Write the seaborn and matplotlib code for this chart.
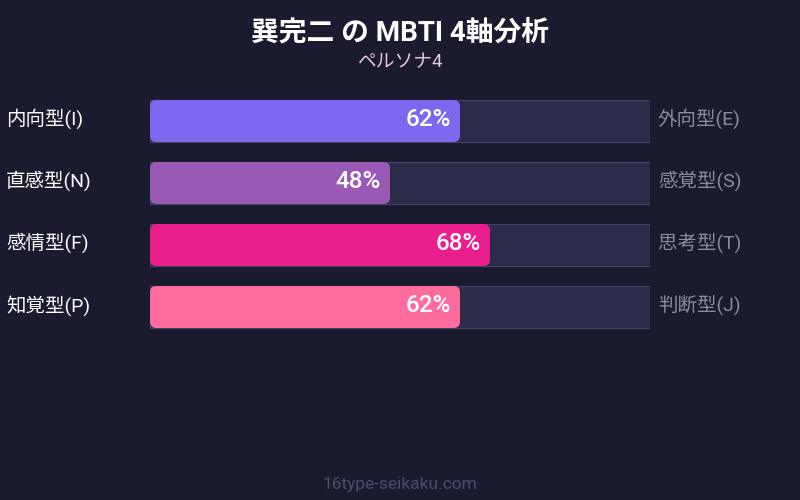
import matplotlib
matplotlib.use("Agg")
import matplotlib.pyplot as plt
import matplotlib.transforms as mtransforms
from matplotlib.patches import FancyBboxPatch
import seaborn as sns
import pandas as pd

# data
left_labels = ["内向型(I)", "直感型(N)", "感情型(F)", "知覚型(P)"]
right_labels = ["外向型(E)", "感覚型(S)", "思考型(T)", "判断型(J)"]
scores = [62, 48, 68, 62]
bar_colors = ["#7b68ee", "#9b59b6", "#e91e8c", "#ff6b9d"]
title = "巽完二 の MBTI 4軸分析"
subtitle = "ペルソナ4"
footer = "16type-seikaku.com"

BG = "#1a1b2e"
TRACK = "#2d2b4a"
TRACK_EDGE = "#45456a"

sns.set_theme(style="white")
plt.rcParams["font.family"] = ["Roboto", "Noto Sans CJK JP", "DejaVu Sans"]

df = pd.DataFrame({"axis": left_labels, "score": scores, "full": [100] * len(scores)})

fig = plt.figure(figsize=(8, 5), dpi=100, facecolor=BG)
ax = fig.add_axes([150 / 800, 1 - 338 / 500, 500 / 800, 248 / 500])
ax.set_facecolor(BG)

# background tracks
sns.barplot(data=df, x="full", y="axis", orient="h", color=TRACK, saturation=1,
            width=42 / 62, edgecolor=TRACK_EDGE, linewidth=0.8, ax=ax)
n_track = len(ax.patches)

# filled bars
sns.barplot(data=df, x="score", y="axis", hue="axis", orient="h", palette=bar_colors,
            saturation=1, width=42 / 62, legend=False, ax=ax)

# swap filled bars for rounded ones (radius ~6px: x 5px/unit, y 62px/unit)
for p in ax.patches[n_track:]:
    x0, y0 = p.get_x(), p.get_y()
    w, h = p.get_width(), p.get_height()
    p.set_visible(False)
    rounded = FancyBboxPatch((x0, y0), w, h,
                             boxstyle="round,pad=0,rounding_size=1.3",
                             mutation_aspect=5 / 62,
                             facecolor=p.get_facecolor(), edgecolor="none")
    ax.add_patch(rounded)

ax.set_xlim(0, 100)
ax.set_ylim(3.5, -0.5)
ax.set_xlabel("")
ax.set_ylabel("")
ax.set_xticks([])
ax.set_yticks([])
for s in ax.spines.values():
    s.set_visible(False)

# labels
trans_fig_x = mtransforms.blended_transform_factory(fig.transFigure, ax.transData)
for i, (ll, rl, v) in enumerate(zip(left_labels, right_labels, scores)):
    ax.text(6 / 800, i - 0.03, ll, transform=trans_fig_x, ha="left", va="center",
            color="white", fontsize=14)
    ax.text(658 / 800, i - 0.03, rl, transform=trans_fig_x, ha="left", va="center",
            color="#8a8aa3", fontsize=14)
    ax.text(v - 1.8, i - 0.02, f"{v}%", ha="right", va="center", color="white",
            fontsize=17.5, fontweight="medium")

fig.text(0.5, 1 - 33 / 500, title, ha="center", va="center", color="white",
         fontsize=20, fontweight="bold")
fig.text(0.5, 1 - 62 / 500, subtitle, ha="center", va="center", color="#e8c4e0",
         fontsize=13.5)
fig.text(0.5, 1 - 484 / 500, footer, ha="center", va="center", color="#4d4d6b",
         fontsize=12.5)

fig.savefig("out.png", dpi=100, facecolor=BG)
